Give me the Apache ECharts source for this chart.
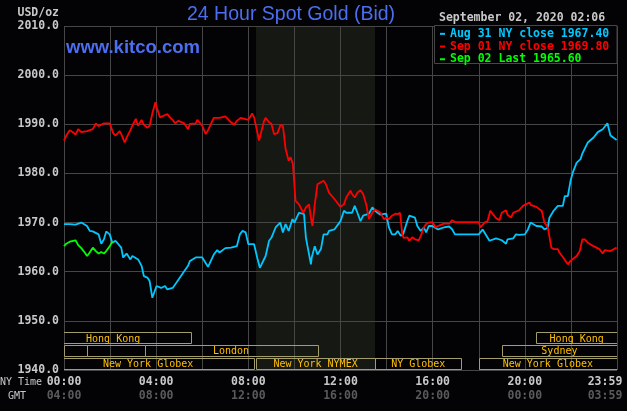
<!DOCTYPE html>
<html><head><meta charset="utf-8">
<script src="https://cdn.jsdelivr.net/npm/echarts@6/dist/echarts.min.js"></script>
<style>html,body{margin:0;padding:0;background:#030306}#c{width:627px;height:411px}</style>
</head><body><div id="c"></div>
<script>
// ---- data (times in minutes after 00:00 NY time) ----
const seriesNames = ['Aug 31 NY close 1967.40', 'Sep 01 NY close 1969.80', 'Sep 02 Last 1965.60'];

const aug31Times = [0,15,30,45,60,67,75,90,97,104,110,119,126,134,149,154,163,173,178,193,202,208,217,223,230,241,253,263,269,283,293,298,313,323,328,343,
  360,375,390,399,405,420,435,450,458,465,473,480,495,503,510,525,534,540,551,556,563,570,577,585,595,600,612,616,625,630,643,645,653,660,669,676,686,690,
  704,720,729,735,750,757,764,772,779,794,803,810,824,839,846,854,863,869,877,883,894,899,914,920,929,937,943,950,959,974,989,1003,1011,1018,1048,
  1080,1090,1095,1108,1110,1125,1140,1151,1155,1170,1177,1185,1200,1208,1215,1230,1244,1251,1260,1264,1275,1286,1290,1299,1304,1312,1319,1325,1335,1345,1350,1364,1379,1390,1394,1403,1408,1415,1423,1439];
const aug31Values = [1969.7,1969.7,1969.6,1970.0,1969.3,1968.3,1968.2,1967.6,1965.7,1966.6,1968.2,1967.6,1965.9,1966.3,1964.9,1962.9,1963.7,1962.5,1963.2,1962.5,1961.2,1959.1,1958.8,1958.1,1954.7,1957.1,1956.7,1957.1,1956.4,1956.7,1957.8,1957.6,1960.1,1961.2,1962.2,1962.9,
  1962.9,1961.0,1963.5,1964.4,1963.9,1964.8,1964.9,1965.2,1967.6,1968.3,1968.0,1965.6,1965.6,1962.9,1960.8,1963.2,1966.3,1966.9,1969.0,1969.3,1970.0,1968.0,1969.7,1968.3,1970.7,1970.0,1972.0,1972.4,1971.7,1966.9,1961.5,1962.9,1965.2,1963.5,1964.6,1967.6,1967.6,1968.3,
  1968.6,1970.3,1972.4,1972.0,1972.0,1973.4,1972.0,1970.3,1971.4,1971.8,1973.1,1972.4,1971.6,1971.8,1969.0,1967.6,1967.6,1968.3,1967.3,1967.6,1970.3,1971.4,1971.0,1969.3,1968.3,1969.0,1968.0,1969.3,1969.3,1968.6,1969.0,1969.2,1968.6,1967.6,1967.6,
  1967.6,1968.6,1968.3,1966.3,1966.4,1966.8,1966.4,1965.7,1966.6,1966.8,1967.6,1967.5,1967.6,1968.6,1970.0,1969.3,1969.2,1968.6,1969.0,1971.0,1972.4,1973.4,1973.2,1973.4,1975.4,1975.4,1978.5,1980.2,1982.2,1982.9,1984.1,1986.3,1987.3,1988.4,1988.4,1989.0,1989.4,1990.2,1987.7,1986.8];

const sep01Times = [0,6,15,23,30,37,45,60,75,83,90,104,119,128,134,145,149,158,163,173,178,187,193,202,208,217,223,230,238,241,250,253,269,276,283,289,298,313,323,328,343,
  347,360,369,375,390,405,420,435,443,450,460,465,480,490,495,508,510,521,525,534,540,547,556,564,570,577,585,590,596,600,603,612,623,630,638,643,647,653,660,676,682,690,
  704,720,729,735,746,750,757,764,772,779,787,794,803,810,824,833,839,846,854,863,869,875,881,884,894,899,907,914,924,929,937,943,950,959,968,974,989,1003,1011,1018,1048,
  1080,1084,1095,1103,1110,1114,1125,1134,1140,1151,1155,1164,1170,1185,1195,1200,1212,1215,1230,1238,1244,1251,1260,1269,1275,1286,1290,1299,1304,1312,1319,1335,1343,1350,1356,1364,1379,1394,1403,1408,1423,1439];
const sep01Values = [1986.7,1987.7,1988.8,1988.4,1987.9,1989.0,1988.4,1988.6,1989.0,1990.2,1989.6,1990.2,1990.2,1988.2,1987.7,1988.6,1988.0,1986.3,1987.3,1988.8,1989.7,1991.1,1989.7,1990.9,1989.9,1989.3,1989.7,1992.2,1994.5,1993.5,1991.4,1991.6,1992.1,1991.4,1990.9,1990.2,1990.7,1990.2,1989.0,1990.1,1990.2,
  1990.9,1989.7,1988.0,1988.8,1991.3,1991.3,1991.6,1990.4,1989.9,1990.7,1991.3,1991.1,1990.9,1992.2,1991.4,1986.7,1987.3,1990.7,1991.3,1990.4,1990.1,1988.0,1988.2,1989.9,1989.7,1985.0,1982.6,1983.3,1981.9,1982.2,1974.4,1973.7,1972.0,1973.1,1973.7,1971.0,1969.3,1973.7,1977.8,1978.5,1977.8,1976.1,
  1974.8,1973.2,1973.7,1975.1,1976.5,1975.8,1975.1,1976.1,1976.6,1975.8,1973.7,1970.7,1972.0,1972.7,1972.0,1970.7,1971.0,1970.7,1971.4,1971.8,1971.7,1972.0,1967.6,1966.9,1967.0,1966.3,1967.0,1966.6,1966.4,1967.3,1969.0,1969.7,1970.0,1970.1,1969.0,1969.3,1969.8,1969.8,1970.5,1970.1,1970.1,
  1970.1,1969.0,1970.0,1970.3,1972.4,1972.5,1970.9,1970.5,1972.0,1972.5,1971.6,1971.0,1972.0,1972.5,1973.4,1973.7,1974.1,1973.6,1973.2,1972.7,1972.4,1970.0,1969.0,1964.9,1964.6,1964.6,1963.9,1963.0,1962.7,1961.5,1962.2,1963.2,1964.2,1966.6,1966.6,1965.9,1965.2,1964.6,1963.7,1964.4,1964.2,1964.9];

const sep02Times = [0,6,15,30,37,45,54,60,67,75,83,90,97,104,110,119,126];
const sep02Values = [1965.2,1965.7,1966.1,1966.4,1965.4,1964.8,1963.9,1963.2,1963.9,1964.9,1964.2,1963.7,1964.0,1963.7,1964.2,1965.2,1966.1];

const yTicks = [1940, 1950, 1960, 1970, 1980, 1990, 2000, 2010];
const xTickMinutes = [0, 240, 480, 720, 960, 1200, 1440];
const nyTimeLabels = ['00:00', '04:00', '08:00', '12:00', '16:00', '20:00', '23:59'];
const gmtLabels = ['04:00', '08:00', '12:00', '16:00', '20:00', '00:00', '03:59'];

// NYMEX shaded session
const shadeSession = [500, 810];

// market sessions: name, start, end, row (0 = top)
const sessionNames = ['Hong Kong', 'Hong Kong', '', '', 'London', 'Sydney', 'New York Globex', 'New York NYMEX', 'NY Globex', 'New York Globex'];
const sessionStarts = [-74, 1230, 0, 60, 210, 1140, -57, 500, 810, 1080];
const sessionEnds = [330, 1440, 60, 210, 660, 1440, 495, 810, 1035, 1440];
const sessionRows = [0, 0, 1, 1, 1, 1, 2, 2, 2, 2];

// ---- chart ----
const MONO = '"DejaVu Sans Mono", monospace';
const BG = '#030306';
const GRIDC = '#464646';
const zip = (t, v) => t.map((x, i) => [x, v[i]]);
const colors = ['#00c8ff', '#ff0000', '#00ff00'];

const chart = echarts.init(document.getElementById('c'), null, {renderer: 'canvas'});
const option = {
  animation: false,
  backgroundColor: BG,
  title: {
    text: '24 Hour Spot Gold (Bid)', left: 187, top: 5, padding: 0,
    textStyle: {color: '#4c6ef0', fontSize: 19.5, fontWeight: 'normal', fontFamily: '"Liberation Sans", Arial, sans-serif'}
  },
  grid: {left: 64, right: 10, top: 26, bottom: 41, containLabel: false, outerBoundsMode: 'none'},
  legend: {
    orient: 'vertical', left: 440, top: 27.5, itemGap: 0, itemWidth: 5, itemHeight: 2, icon: 'rect',
    selectedMode: false, z: 20, padding: 0,
    textStyle: {fontFamily: MONO, fontWeight: 'bold', fontSize: 11.5, lineHeight: 12.7},
    data: seriesNames.map((n, i) => ({name: n, textStyle: {color: colors[i]}}))
  },
  xAxis: {
    type: 'value', min: 0, max: 1440, interval: 120, z: 1,
    axisLine: {show: false}, axisTick: {show: false},
    splitLine: {show: true, lineStyle: {color: GRIDC, width: 1}},
    axisLabel: {
      margin: 5,
      formatter: v => {
        const i = xTickMinutes.indexOf(v);
        if (i < 0) return '';
        const last = i === xTickMinutes.length - 1;
        return last ? `{al|${nyTimeLabels[i]}}\n{bl|${gmtLabels[i]}}` : `{a|${nyTimeLabels[i]}}\n{b|${gmtLabels[i]}}`;
      },
      rich: {
        a: {color: '#c8c8c8', fontFamily: MONO, fontWeight: 'bold', fontSize: 11.5, lineHeight: 14},
        b: {color: '#5a5a5a', fontFamily: MONO, fontWeight: 'bold', fontSize: 11.5, lineHeight: 14},
        al: {color: '#c8c8c8', fontFamily: MONO, fontWeight: 'bold', fontSize: 11.5, lineHeight: 14, padding: [0, 24, 0, 0]},
        bl: {color: '#5a5a5a', fontFamily: MONO, fontWeight: 'bold', fontSize: 11.5, lineHeight: 14, padding: [0, 24, 0, 0]}
      }
    }
  },
  yAxis: {
    type: 'value', min: yTicks[0], max: yTicks[yTicks.length - 1], interval: 10, z: 1,
    name: 'USD/oz', nameLocation: 'end', nameGap: 13,
    nameTextStyle: {color: '#c8c8c8', fontFamily: MONO, fontWeight: 'bold', fontSize: 11.5, align: 'right', verticalAlign: 'middle', padding: [0, 5, 0, 0]},
    axisLine: {show: false}, axisTick: {show: false},
    splitLine: {show: true, lineStyle: {color: GRIDC, width: 1}},
    axisLabel: {margin: 5, color: '#c8c8c8', fontFamily: MONO, fontWeight: 'bold', fontSize: 11.5, formatter: v => v.toFixed(1)}
  },
  graphic: [
    {type: 'rect', z: 10, shape: {x: 434.5, y: 25.5, width: 182.5, height: 38}, style: {fill: BG, stroke: GRIDC, lineWidth: 1}},
    {type: 'text', z: 10, style: {text: 'September 02, 2020 02:06', x: 439, y: 18, verticalAlign: 'middle', fill: '#c8c8c8', font: 'bold 11.5px ' + MONO}},
    {type: 'text', z: 10, style: {text: 'www.kitco.com', x: 66, y: 48, verticalAlign: 'middle', fill: '#4c6ef0', font: 'bold 18.5px "Liberation Sans", Arial, sans-serif'}},
    {type: 'text', z: 10, style: {text: 'NY Time', x: 0, y: 382, verticalAlign: 'middle', fill: '#c8c8c8', font: '10px ' + MONO}},
    {type: 'text', z: 10, style: {text: 'GMT', x: 8, y: 396, verticalAlign: 'middle', fill: '#c8c8c8', font: '10px ' + MONO}}
  ],
  series: [
    {
      type: 'custom', name: 'shade', z: 0, silent: true,
      data: [shadeSession],
      renderItem: (params, api) => {
        const cs = params.coordSys;
        const x0 = api.coord([api.value(0), 2000])[0], x1 = api.coord([api.value(1), 2000])[0];
        return {type: 'rect', shape: {x: x0, y: cs.y, width: x1 - x0, height: cs.height}, style: {fill: '#161814'}};
      }
    },
    {type: 'line', name: seriesNames[0], z: 2, data: zip(aug31Times, aug31Values), showSymbol: false, color: colors[0], lineStyle: {width: 1.8, color: colors[0]}},
    {type: 'line', name: seriesNames[1], z: 2, data: zip(sep01Times, sep01Values), showSymbol: false, color: colors[1], lineStyle: {width: 1.8, color: colors[1]}},
    {type: 'line', name: seriesNames[2], z: 2, data: zip(sep02Times, sep02Values), showSymbol: false, color: colors[2], lineStyle: {width: 1.8, color: colors[2]}},
    {
      type: 'custom', name: 'sessions', z: 3, silent: true, clip: true,
      data: sessionNames.map((n, i) => [sessionStarts[i], sessionEnds[i], sessionRows[i]]),
      renderItem: (params, api) => {
        const s = api.value(0), e = api.value(1), row = api.value(2);
        const yb = 1940 + (2 - row) * 2.6, yt = yb + 2.45;
        const p0 = api.coord([s, yt]), p1 = api.coord([e, yb]);
        return {type: 'group', children: [
          {type: 'rect', shape: {x: Math.round(p0[0]) + 0.5, y: Math.round(p0[1]) + 0.5, width: Math.round(p1[0] - p0[0]), height: Math.round(p1[1] - p0[1]) - 1},
           style: {fill: null, stroke: '#a39d6c', lineWidth: 1}},
          {type: 'text', style: {text: sessionNames[params.dataIndex], x: (p0[0] + p1[0]) / 2, y: (p0[1] + p1[1]) / 2 + 0.5,
            align: 'center', verticalAlign: 'middle', fill: '#ffc000', font: '10px ' + MONO}}
        ]};
      }
    }
  ]
};
chart.setOption(option);
</script></body></html>
